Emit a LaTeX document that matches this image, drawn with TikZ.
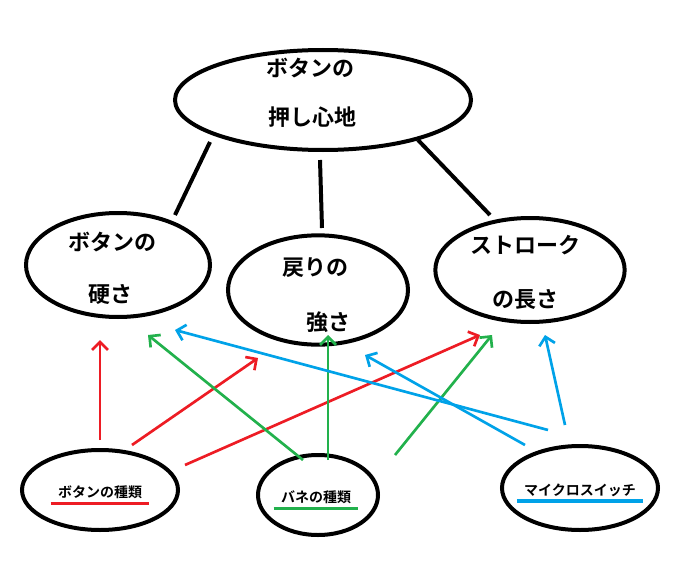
\documentclass[tikz,border=0pt]{standalone}
\usepackage{fontspec}
\newfontfamily\jp{Noto Sans CJK JP}[BoldFont={* Bold}]
\usetikzlibrary{shapes.geometric,arrows.meta}
\begin{document}
\begin{tikzpicture}[x=0.75pt,y=-0.75pt]
\tikzstyle{every node}=[font=\jp\bfseries]
\tikzstyle{oval}=[draw=black,line width=3pt,ellipse,inner sep=0pt]
\tikzstyle{big}=[font=\jp\bfseries\fontsize{16.5}{19}\selectfont]
\tikzstyle{small}=[font=\jp\bfseries\fontsize{10.5}{12}\selectfont]
\tikzstyle{link}=[line width=3pt]
\tikzstyle{hand}=[line width=2pt,->,>={Straight Barb[length=6pt,width=12pt]}]
\definecolor{myred}{RGB}{237,28,36}
\definecolor{mygreen}{RGB}{34,177,76}
\definecolor{myblue}{RGB}{0,162,232}
\useasboundingbox (0,0) rectangle (689,567);

\node[oval,minimum width=222pt,minimum height=75pt] (T) at (323,100) {};
\node[big] at (310,68) {ボタンの};
\node[big] at (312,117) {押し心地};

\node[oval,minimum width=138pt,minimum height=78pt] (H) at (118,265) {};
\node[big] at (112,242) {ボタンの};
\node[big] at (110,295) {硬さ};

\node[oval,minimum width=135pt,minimum height=82pt] (R) at (318,290) {};
\node[big] at (315,268) {戻りの};
\node[big] at (328,322) {強さ};

\node[oval,minimum width=142pt,minimum height=78pt] (S) at (530,270) {};
\node[big] at (525,245) {ストローク};
\node[big] at (525,300) {の長さ};

\node[oval,minimum width=117pt,minimum height=60pt] (BT) at (100,490) {};
\node[small] (bt) at (100,492) {ボタンの種類};
\draw[myred,line width=2.5pt] ([xshift=-2pt]bt.south west) -- ([xshift=2pt]bt.south east);

\node[oval,minimum width=90pt,minimum height=60pt] (BN) at (318,495) {};
\node[small] (bn) at (316,497) {バネの種類};
\draw[mygreen,line width=2.5pt] ([xshift=-2pt]bn.south west) -- ([xshift=2pt]bn.south east);

\node[oval,minimum width=117pt,minimum height=63pt] (MS) at (580,488) {};
\node[small] (ms) at (580,490) {マイクロスイッチ};
\draw[myblue,line width=2.5pt] ([xshift=-2pt]ms.south west) -- ([xshift=2pt]ms.south east);

% links from the top
\draw[link] (210,142) -- (175,215);
\draw[link] (320,160) -- (322,228);
\draw[link] (418,140) -- (490,215);

% arrow ends
\coordinate (r1) at (100,440); \coordinate (r1e) at (100,340);
\coordinate (r2) at (132,445); \coordinate (r2e) at (258,358);
\coordinate (r3) at (185,465); \coordinate (r3e) at (480,335);
\coordinate (g1) at (303,460); \coordinate (g1e) at (148,335);
\coordinate (g2) at (328,460); \coordinate (g2e) at (328,335);
\coordinate (g3) at (395,455); \coordinate (g3e) at (492,335);
\coordinate (b1) at (548,430); \coordinate (b1e) at (175,330);
\coordinate (b2) at (525,445); \coordinate (b2e) at (365,355);
\coordinate (b3) at (565,425); \coordinate (b3e) at (545,335);

\draw[hand,myred] (r1) -- (r1e);
\draw[hand,myred] (r2) -- (r2e);
\draw[hand,myred] (r3) -- (r3e);
\draw[hand,mygreen] (g1) -- (g1e);
\draw[hand,mygreen] (g2) -- (g2e);
\draw[hand,mygreen] (g3) -- (g3e);
\draw[hand,myblue] (b1) -- (b1e);
\draw[hand,myblue] (b2) -- (b2e);
\draw[hand,myblue] (b3) -- (b3e);
\end{tikzpicture}
\end{document}
